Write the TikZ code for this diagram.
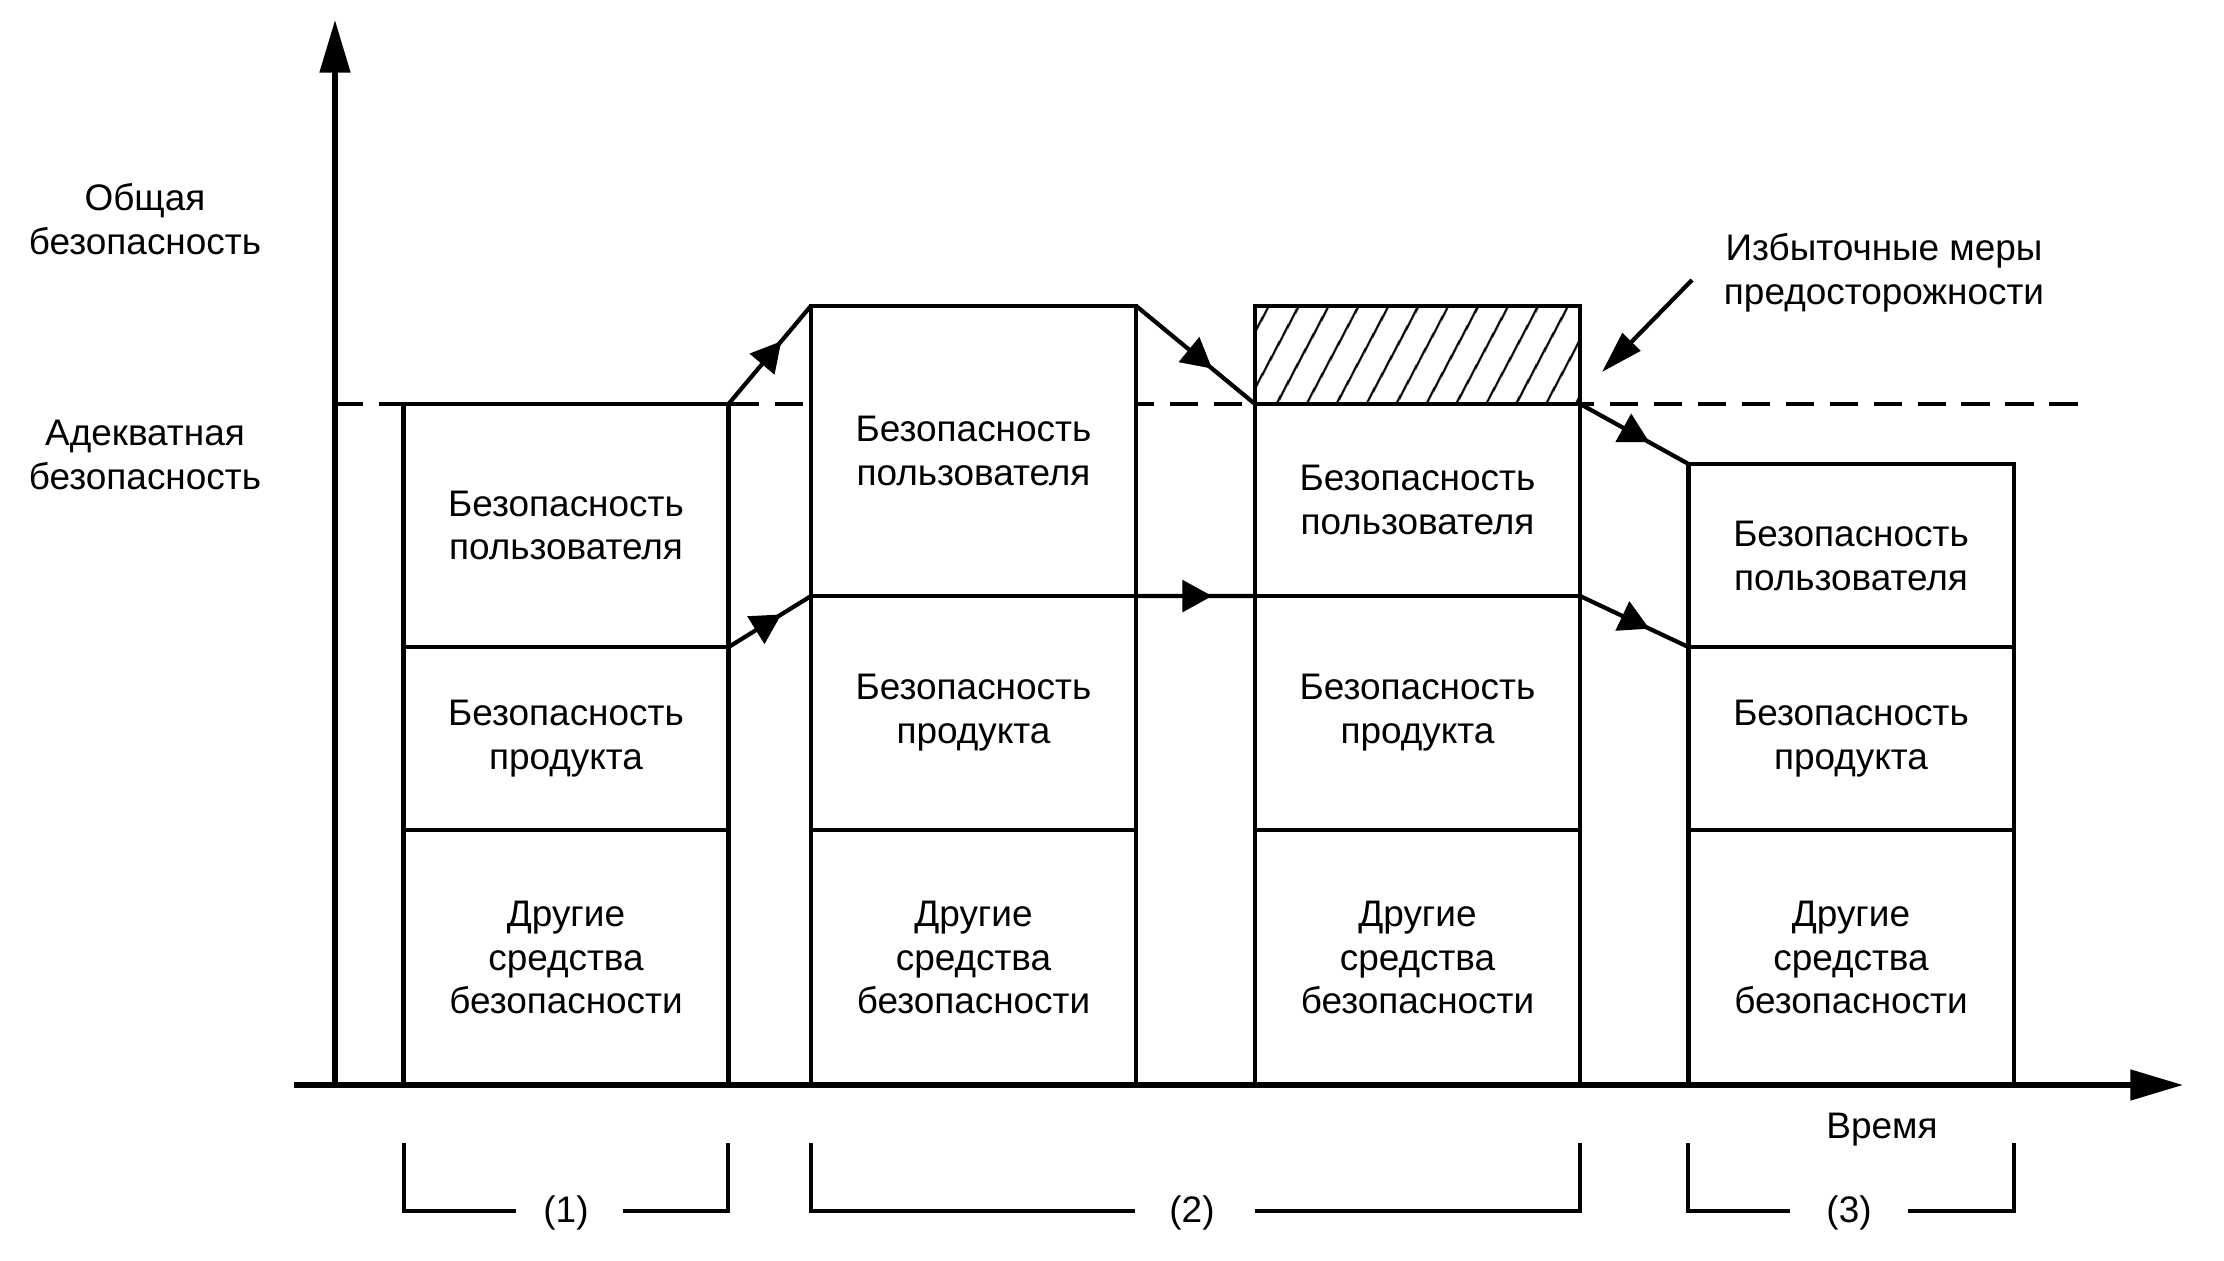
\documentclass[tikz,border=0pt]{standalone}
\usepackage{fontspec}
\setmainfont{Liberation Sans}
\usetikzlibrary{arrows.meta,decorations.markings,patterns.meta}

\tikzset{
    txt/.style={align=center, font=\fontsize{10.5}{12.5}\selectfont},
    sect/.style={txt, draw, fill=white, line width=1.2pt, inner sep=0pt, outer sep=0pt, minimum width=3.25cm},
    flow/.style={line width=1.2pt, postaction={decorate},
        decoration={markings, mark=at position 0.64 with {\arrow{Triangle[length=8.5pt,width=9pt]}}}},
    axis/.style={line width=1.5pt, -{Triangle[length=15pt,width=8.5pt]}},
    brk/.style={line width=0.9pt},
}

\begin{document}
\begin{tikzpicture}[x=0.01cm, y=-0.01cm]
    \useasboundingbox (0,0) rectangle (2224,1261);

    % уровень адекватной безопасности
    \draw[line width=1.2pt, dash pattern=on 8pt off 4.5pt] (335,404) -- (2078,404);

    % столбец 1
    \node[sect, minimum height=2.43cm] (u1) at (566,525.5) {Безопасность\\пользователя};
    \node[sect, minimum height=1.83cm] (p1) at (566,738.5) {Безопасность\\продукта};
    \node[sect, minimum height=2.55cm] (o1) at (566,957.5) {Другие\\средства\\безопасности};

    % столбец 2
    \node[sect, minimum height=2.90cm] (u2) at (973.5,451) {Безопасность\\пользователя};
    \node[sect, minimum height=2.34cm] (p2) at (973.5,713) {Безопасность\\продукта};
    \node[sect, minimum height=2.55cm] (o2) at (973.5,957.5) {Другие\\средства\\безопасности};

    % столбец 3
    \node[draw, line width=1.2pt, inner sep=0pt, outer sep=0pt, minimum width=3.25cm, minimum height=0.98cm,
        pattern={Lines[angle=62,distance=7.4pt,line width=0.7pt]}] (x3) at (1417.5,355) {};
    \node[sect, minimum height=1.92cm] (u3) at (1417.5,500) {Безопасность\\пользователя};
    \node[sect, minimum height=2.34cm] (p3) at (1417.5,713) {Безопасность\\продукта};
    \node[sect, minimum height=2.55cm] (o3) at (1417.5,957.5) {Другие\\средства\\безопасности};

    % столбец 4
    \node[sect, minimum height=1.83cm] (u4) at (1851,555.5) {Безопасность\\пользователя};
    \node[sect, minimum height=1.83cm] (p4) at (1851,738.5) {Безопасность\\продукта};
    \node[sect, minimum height=2.55cm] (o4) at (1851,957.5) {Другие\\средства\\безопасности};

    % переходы
    \draw[flow] (u1.north east) -- (u2.north west);
    \draw[flow] (u1.south east) -- (u2.south west);
    \draw[flow] (u2.north east) -- (u3.north west);
    \draw[flow] (u2.south east) -- (u3.south west);
    \draw[flow] (u3.north east) -- (u4.north west);
    \draw[flow] (u3.south east) -- (u4.south west);

    % подписи
    \node[txt] (total) at (145,219) {Общая\\безопасность};
    \node[txt] (adeq) at (145,455) {Адекватная\\безопасность};
    \node[txt] (excess) at (1884,273) {Избыточные меры\\предосторожности};
    \node[txt] (time) at (1882,1130) {Время};

    % стрелка к избыточным мерам
    \coordinate (ex-s) at (1692,280);
    \coordinate (ex-e) at (1602,372);
    \draw[line width=1.2pt, -{Triangle[length=12pt,width=7pt]}] (ex-s) -- (ex-e);

    % этапы
    \node[txt] (n1) at (566,1213) {(1)};
    \draw[brk] (404,1143) |- (516,1211);
    \draw[brk] (623,1211) -| (728,1143);
    \node[txt] (n2) at (1192,1213) {(2)};
    \draw[brk] (811,1143) |- (1135,1211);
    \draw[brk] (1255,1211) -| (1580,1143);
    \node[txt] (n3) at (1849,1213) {(3)};
    \draw[brk] (1688,1143) |- (1790,1211);
    \draw[brk] (1908,1211) -| (2014,1143);

    % оси
    \draw[axis] (294,1085) -- (2183,1085);
    \draw[axis] (335,1085) -- (335,20);
\end{tikzpicture}
\end{document}
